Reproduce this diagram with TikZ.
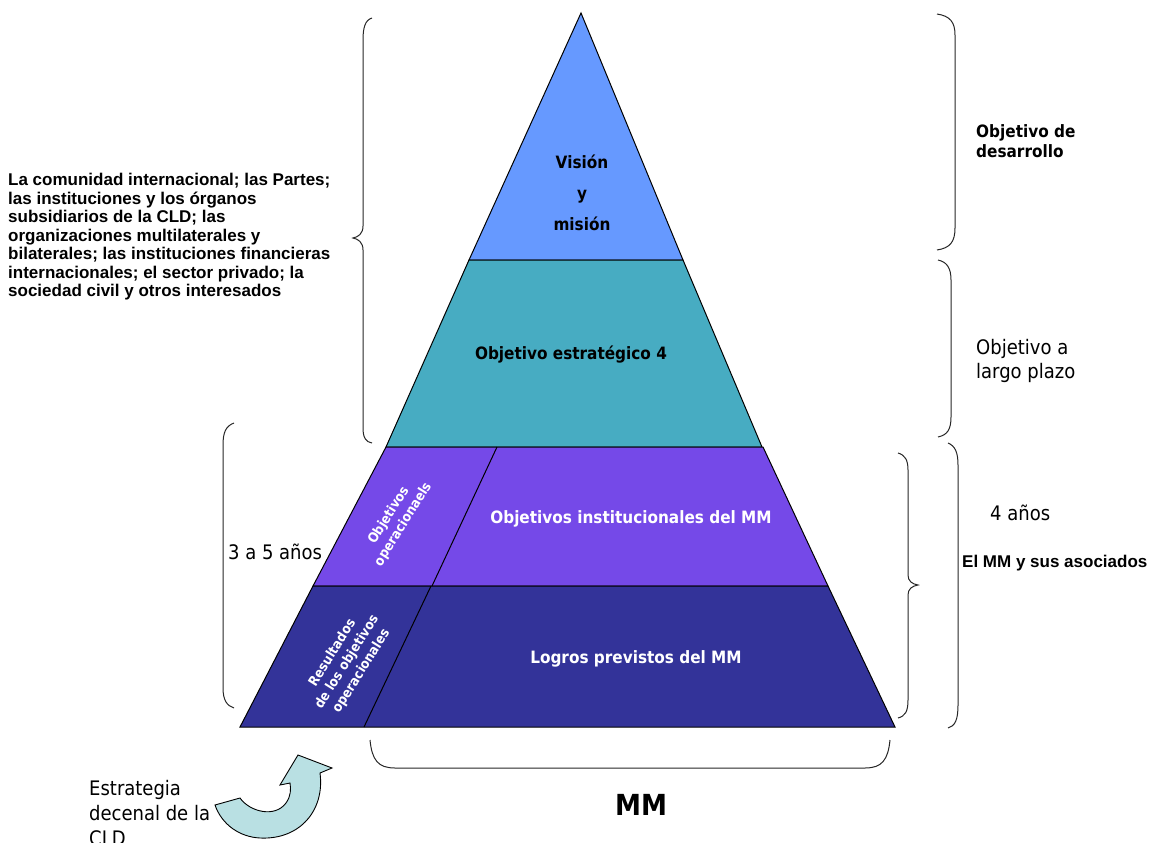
\documentclass[tikz,border=0pt]{standalone}
\usepackage{fontspec}
\newfontfamily\tah{DejaVu Sans Condensed}
\newfontfamily\tahb{DejaVu Sans Condensed Bold}
\newfontfamily\ari{Liberation Sans}
\definecolor{cTop}{HTML}{6699FF}
\definecolor{cTeal}{HTML}{47ACC2}
\definecolor{cPurple}{HTML}{7549E8}
\definecolor{cDark}{HTML}{333399}
\definecolor{cArrow}{HTML}{B9E0E3}
\tikzset{
  layer/.style={draw=black, line width=1pt, line join=miter},
  brace/.style={draw=black!85, line width=1pt},
  lbl/.style={inner sep=0pt, font=\tahb\fontsize{17}{19.5}\selectfont, align=center},
  wlbl/.style={lbl, text=white},
  rlbl/.style={inner sep=0pt, text=white, font=\tahb\fontsize{13.5}{17}\selectfont, align=center, rotate=58},
  side/.style={inner sep=0pt, anchor=west, align=left, font=\tah\fontsize{20}{23.5}\selectfont},
  sideb/.style={inner sep=0pt, anchor=west, align=left, font=\tahb\fontsize{17}{19.5}\selectfont},
  arib/.style={inner sep=0pt, anchor=west, align=left, font=\ari\bfseries\fontsize{17}{18.5}\selectfont}
}
\begin{document}
\begin{tikzpicture}[x=1pt,y=-1pt]
\useasboundingbox (0,0) rectangle (1159,843);
% pyramid layers
\path[layer, fill=cTop] (581,13) -- (683,260) -- (469,260) -- cycle;
\path[layer, fill=cTeal] (469,260) -- (683,260) -- (762,447) -- (386,447) -- cycle;
\path[layer, fill=cPurple] (386,447) -- (763,447) -- (828,586) -- (313,586) -- cycle;
\path[layer, fill=cDark] (313,586) -- (828,586) -- (895,727) -- (240,727) -- cycle;
\draw[layer] (497,447) -- (432,586);
\draw[layer] (431,586) -- (364,727);
% labels in pyramid
\node[lbl, font=\tahb\fontsize{17}{31}\selectfont] (vision) at (582,193) {Visión\\y\\misión};
\node[lbl] (estrat) at (571,355) {Objetivo estratégico 4};
\node[wlbl] (inst) at (631,519) {Objetivos institucionales del MM};
\node[wlbl] (logros) at (636,659) {Logros previstos del MM};
\node[rlbl] (oper) at (396,520) {Objetivos\\operacionaels};
\node[rlbl] (result) at (347,662) {Resultados\\de los objetivos\\operacionales};
% braces
\path[brace] (372,18) .. controls (365,20) and (363,28) .. (363,40) -- (363,226) .. controls (363,234) and (358,237) .. (353,238) .. controls (358,239) and (363,242) .. (363,250) -- (363,428) .. controls (363,438) and (366,442) .. (372,443);
\path[brace] (234,423) .. controls (226,426) and (223,432) .. (223,445) -- (223,688) .. controls (223,700) and (227,706) .. (234,708);
\path[brace] (937,14) .. controls (950,16) and (955,22) .. (955,35) -- (955,228) .. controls (955,242) and (950,248) .. (937,250);
\path[brace] (938,260) .. controls (947,262) and (951,268) .. (951,280) -- (951,417) .. controls (951,430) and (947,435) .. (938,437);
\path[brace] (948,443) .. controls (955,446) and (958,452) .. (958,465) -- (958,705) .. controls (958,720) and (955,726) .. (948,728);
\path[brace] (898,453) .. controls (905,455) and (908,460) .. (908,470) -- (908,575) .. controls (908,581) and (912,584) .. (918,585) .. controls (912,586) and (908,589) .. (908,595) -- (908,700) .. controls (908,712) and (905,716) .. (898,718);
\path[brace] (370,740) .. controls (372,760) and (378,768) .. (395,768) -- (865,768) .. controls (882,768) and (888,760) .. (890,740);
% side texts
\node[arib] (actors) at (8,237) {La comunidad internacional; las Partes;\\las instituciones y los órganos\\subsidiarios de la CLD; las\\organizaciones multilaterales y\\bilaterales; las instituciones financieras\\internacionales; el sector privado; la\\sociedad civil y otros interesados};
\node[sideb] (desarrollo) at (976,141) {Objetivo de\\desarrollo};
\node[side] (largo) at (976,361) {Objetivo a\\largo plazo};
\node[side] (cuatro) at (990,513) {4 años};
\node[arib] (asoc) at (962,563) {El MM y sus asociados};
\node[side] (tres) at (228,552) {3 a 5 años};
\node[side, font=\tah\fontsize{20}{25}\selectfont] (estrategia) at (89,813) {Estrategia\\decenal de la\\CLD};
\node[inner sep=0pt, font=\tahb\fontsize{29}{32}\selectfont] (mm) at (641,805) {MM};
% curved arrow
\path[draw=black, line width=0.9pt, fill=cArrow, line join=miter] (298,755) -- (332,768) -- (320,773) .. controls (325,810) and (300,840) .. (260,838) .. controls (240,837) and (222,825) .. (215,805) -- (240,798) .. controls (250,812) and (275,818) .. (286,803) .. controls (291,796) and (291,789) .. (290,783) -- (280,785) -- cycle;
\end{tikzpicture}
\end{document}
